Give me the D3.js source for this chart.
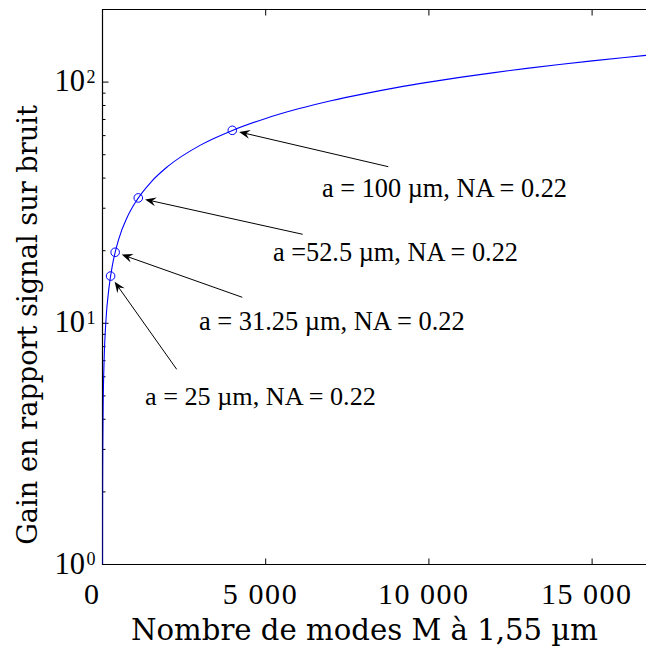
<!DOCTYPE html>
<html>
<head>
<meta charset="utf-8">
<script src="https://cdn.jsdelivr.net/npm/d3@7"></script>
<style>
  html, body { margin: 0; padding: 0; background: #fff; overflow: hidden; }
  svg { display: block; }
  text { font-family: "Liberation Serif", "DejaVu Serif", serif; fill: #000; }
</style>
</head>
<body>
<svg id="chart" width="646" height="651"></svg>
<script>
// ---- data ----
const curveModes = [1, 2, 5, 10, 20, 50, 100, 200, 300, 500, 750, 1000, 1500, 2000, 3000, 4000, 5000, 6000, 7000, 8000, 9000, 10000, 11000, 12000, 13000, 14000, 15000, 16000, 17000];
const curveGain  = [1, 1.41, 2.24, 3.16, 4.47, 7.07, 10, 14.1, 17.3, 22.4, 27.4, 31.6, 38.7, 44.7, 54.8, 63.2, 70.7, 77.5, 83.7, 89.4, 94.9, 100, 104.9, 109.5, 114, 118.3, 122.5, 126.5, 130.4];
const markModes  = [248, 388, 1096, 3977];
const markGain   = [15.7, 19.7, 33.1, 63.1];
const markLabels = ["a = 25 µm, NA = 0.22", "a = 31.25 µm, NA = 0.22", "a =52.5 µm, NA = 0.22", "a = 100 µm, NA = 0.22"];
const xTicks = [0, 5000, 10000, 15000];
const xTickLabels = ["0", "5 000", "10 000", "15 000"];
const yTicks = [1, 10, 100];
const yTickExponents = ["0", "1", "2"];
const xTitle = "Nombre de modes M à 1,55 µm";
const yTitle = "Gain en rapport signal sur bruit";

// ---- layout ----
const svg = d3.select("#chart");
const L = 102.5, T = 9.5, B = 564.5;
const x = d3.scaleLinear().domain([0, 17000]).range([L, L + 17000 * 163.2 / 5000]);
const y = d3.scaleLog().domain([1, 200]).range([B, T]);
const R = x.range()[1];

function fitText(sel, size, width) {
  sel.attr("font-size", size);
  const w = sel.node().getComputedTextLength();
  sel.attr("font-size", size * width / w);
  return sel;
}

svg.append("clipPath").attr("id", "clip").append("rect")
  .attr("x", L).attr("y", T).attr("width", R - L).attr("height", B - T);

// frame (left, top, bottom)
svg.append("path").attr("d", `M${R},${T}H${L}V${B}H${R}`)
  .attr("fill", "none").attr("stroke", "#000").attr("stroke-width", 1.2);

// bottom ticks (inward) and top ticks
const g = svg.append("g");
xTicks.slice(1).forEach(v => {
  g.append("line").attr("x1", x(v)).attr("x2", x(v)).attr("y1", B).attr("y2", B - 6).attr("stroke", "#000");
  g.append("line").attr("x1", x(v)).attr("x2", x(v)).attr("y1", T).attr("y2", T + 6).attr("stroke", "#000");
});
// y major + minor ticks on left, inward
const minor = [];
[1, 10, 100].forEach(d => { for (let k = 2; k <= 9; k++) if (d * k <= 200) minor.push(d * k); });
yTicks.forEach(v => g.append("line").attr("x1", L).attr("x2", L + 6).attr("y1", y(v)).attr("y2", y(v)).attr("stroke", "#000"));
minor.forEach(v => g.append("line").attr("x1", L).attr("x2", L + 3).attr("y1", y(v)).attr("y2", y(v)).attr("stroke", "#000"));

// x tick labels
xTicks.forEach((v, i) => {
  const t = svg.append("text").attr("x", i === 0 ? x(v) - 11 : x(v) - 6).attr("y", 604)
    .attr("text-anchor", "middle").attr("font-size", 30).text(xTickLabels[i]);
  if (i > 0) t.attr("textLength", i === 1 ? 74 : 90).attr("lengthAdjust", "spacing");
});
// y tick labels 10^n
yTicks.forEach((v, i) => {
  const t = svg.append("text").attr("x", L - 7).attr("y", y(v) + 9).attr("text-anchor", "end").attr("font-size", 30.5);
  t.append("tspan").text("10");
  t.append("tspan").attr("dy", -8.5).attr("dx", 1.5).attr("font-size", 18).text(yTickExponents[i]);
});

// titles
fitText(svg.append("text").attr("x", 364.5).attr("y", 640).attr("text-anchor", "middle")
  .style("font-family", "'DejaVu Serif', serif").text(xTitle), 28, 467);
fitText(svg.append("text").attr("transform", "translate(37,325) rotate(-90)").attr("text-anchor", "middle")
  .style("font-family", "'DejaVu Serif', serif").text(yTitle), 28, 440);

// curve
const plot = svg.append("g").attr("clip-path", "url(#clip)");
const pts = curveModes.map((m, i) => [m, curveGain[i]]);
plot.append("path").datum(pts)
  .attr("d", d3.line().x(d => x(d[0])).y(d => y(d[1])).curve(d3.curveMonotoneX))
  .attr("fill", "none").attr("stroke", "#0000ff").attr("stroke-width", 1.1);

// markers
markModes.forEach((m, i) => {
  plot.append("circle").attr("cx", x(m)).attr("cy", y(markGain[i])).attr("r", 4.3)
    .attr("fill", "none").attr("stroke", "#0000ff").attr("stroke-width", 1);
});

// annotations: tail point (text side) -> tip near marker
const tails = [[176.7, 369.3], [242.3, 297.3], [302.7, 234.3], [388.3, 166.7]];
const labelPos = [[145, 405], [199, 330], [273, 261], [322, 197]];
const labelW = [231, 266, 245, 245];
markModes.forEach((m, i) => {
  const cx = x(m), cy = y(markGain[i]);
  const [tx, ty] = tails[i];
  const ang = Math.atan2(cy - ty, cx - tx);
  const tipX = cx - 7 * Math.cos(ang), tipY = cy - 7 * Math.sin(ang);
  svg.append("line").attr("x1", tx).attr("y1", ty).attr("x2", tipX - 6 * Math.cos(ang)).attr("y2", tipY - 6 * Math.sin(ang))
    .attr("stroke", "#000").attr("stroke-width", 1);
  svg.append("path")
    .attr("d", "M0,0 L-11,-4.5 L-7,0 L-11,4.5 Z")
    .attr("transform", `translate(${tipX},${tipY}) rotate(${ang * 180 / Math.PI})`)
    .attr("fill", "#000");
  fitText(svg.append("text").attr("x", labelPos[i][0]).attr("y", labelPos[i][1]).text(markLabels[i]), 24, labelW[i]);
});
</script>
</body>
</html>
